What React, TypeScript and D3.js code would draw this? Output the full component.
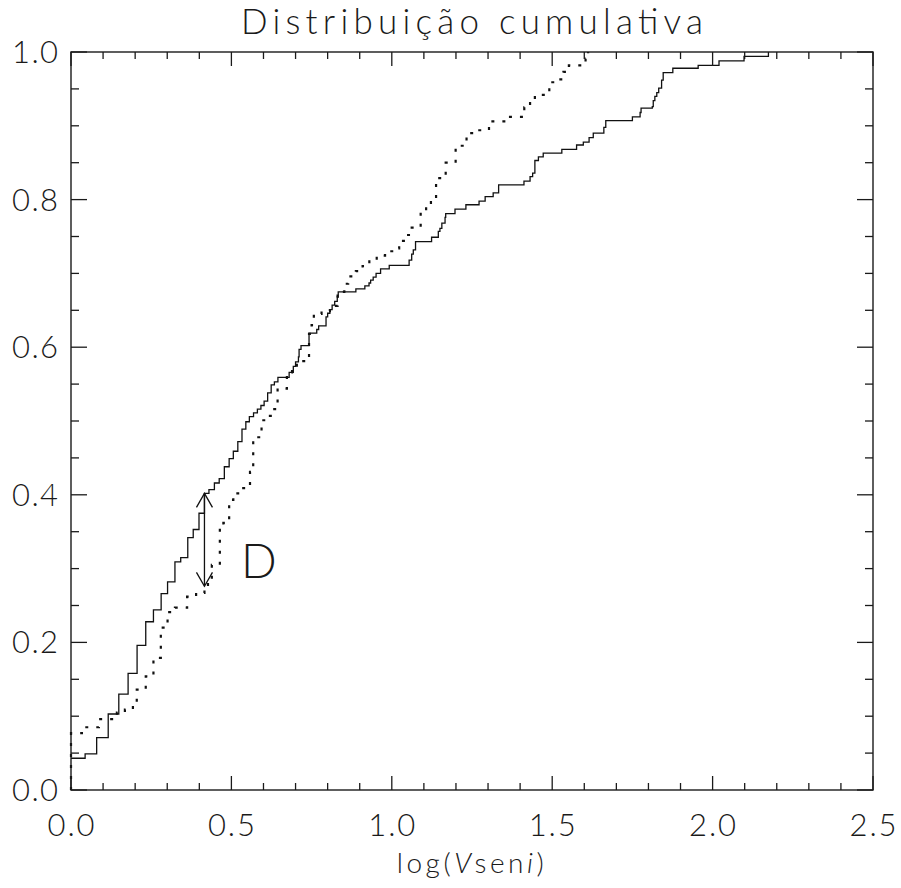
import React from "react";
import * as d3 from "d3";

// Sample 1 (solid line): step positions (log V sin i) and cumulative fraction
const solidX = [0.0, 0.044, 0.080, 0.116, 0.149, 0.178, 0.206, 0.233, 0.257, 0.281, 0.301, 0.324, 0.342, 0.364, 0.381, 0.399, 0.416, 0.430, 0.447, 0.462, 0.478, 0.493, 0.506, 0.520, 0.533, 0.545, 0.556, 0.569, 0.581, 0.592, 0.602, 0.613, 0.624, 0.634, 0.645, 0.680, 0.693, 0.700, 0.709, 0.711, 0.717, 0.742, 0.766, 0.772, 0.795, 0.800, 0.807, 0.814, 0.822, 0.830, 0.833, 0.888, 0.916, 0.929, 0.934, 0.942, 0.951, 0.965, 0.992, 1.054, 1.062, 1.067, 1.074, 1.124, 1.145, 1.150, 1.156, 1.166, 1.168, 1.197, 1.231, 1.272, 1.291, 1.316, 1.333, 1.412, 1.431, 1.439, 1.446, 1.457, 1.472, 1.530, 1.576, 1.597, 1.615, 1.628, 1.661, 1.667, 1.750, 1.774, 1.777, 1.812, 1.815, 1.820, 1.826, 1.832, 1.841, 1.846, 1.876, 1.955, 2.020, 2.098, 2.174];
const solidY = [0.043, 0.049, 0.071, 0.103, 0.130, 0.158, 0.196, 0.228, 0.244, 0.266, 0.282, 0.309, 0.315, 0.342, 0.353, 0.375, 0.402, 0.407, 0.416, 0.422, 0.438, 0.449, 0.459, 0.472, 0.489, 0.499, 0.506, 0.511, 0.516, 0.521, 0.527, 0.538, 0.549, 0.553, 0.559, 0.566, 0.574, 0.580, 0.587, 0.597, 0.602, 0.619, 0.624, 0.629, 0.641, 0.646, 0.651, 0.657, 0.662, 0.668, 0.675, 0.679, 0.683, 0.687, 0.691, 0.695, 0.700, 0.706, 0.711, 0.718, 0.726, 0.732, 0.743, 0.749, 0.757, 0.761, 0.768, 0.776, 0.781, 0.787, 0.793, 0.798, 0.804, 0.809, 0.820, 0.825, 0.831, 0.836, 0.853, 0.858, 0.863, 0.868, 0.874, 0.878, 0.884, 0.890, 0.898, 0.907, 0.912, 0.918, 0.924, 0.926, 0.934, 0.940, 0.945, 0.951, 0.962, 0.972, 0.978, 0.982, 0.988, 0.994, 1.000];

// Sample 2 (dotted line)
const dottedX = [0.0, 0.0, 0.034, 0.087, 0.143, 0.168, 0.193, 0.205, 0.233, 0.257, 0.280, 0.301, 0.324, 0.362, 0.390, 0.416, 0.427, 0.439, 0.464, 0.475, 0.493, 0.506, 0.521, 0.558, 0.568, 0.594, 0.611, 0.627, 0.644, 0.673, 0.689, 0.704, 0.742, 0.750, 0.757, 0.781, 0.807, 0.831, 0.852, 0.864, 0.888, 0.909, 0.930, 0.953, 0.979, 1.007, 1.023, 1.042, 1.062, 1.090, 1.107, 1.122, 1.138, 1.168, 1.199, 1.233, 1.256, 1.303, 1.361, 1.413, 1.431, 1.446, 1.491, 1.517, 1.535, 1.552, 1.604, 1.612];
const dottedY = [0.0, 0.077, 0.085, 0.096, 0.105, 0.109, 0.114, 0.136, 0.154, 0.179, 0.220, 0.241, 0.247, 0.262, 0.267, 0.276, 0.282, 0.305, 0.355, 0.362, 0.393, 0.402, 0.409, 0.431, 0.478, 0.501, 0.507, 0.516, 0.544, 0.566, 0.573, 0.581, 0.618, 0.630, 0.645, 0.649, 0.656, 0.675, 0.686, 0.696, 0.703, 0.710, 0.718, 0.724, 0.730, 0.734, 0.744, 0.752, 0.762, 0.783, 0.794, 0.801, 0.829, 0.850, 0.873, 0.890, 0.894, 0.906, 0.912, 0.925, 0.935, 0.942, 0.959, 0.963, 0.973, 0.982, 0.991, 1.000];

// K-S statistic marker
const dAt = 0.416;
const dTop = 0.402;
const dBottom = 0.276;

const xTickLabels = ["0.0", "0.5", "1.0", "1.5", "2.0", "2.5"];
const yTickLabels = ["0.0", "0.2", "0.4", "0.6", "0.8", "1.0"];

const W = 901;
const H = 888;
const L = 71, R = 873, T = 52, B = 790;
const FONT = "Lato, 'DejaVu Sans', sans-serif";
const INK = "#1a1a1a";

export default function App() {
  const x = d3.scaleLinear().domain([0, 2.5]).range([L, R]);
  const y = d3.scaleLinear().domain([0, 1]).range([B, T]);

  const line = d3
    .line<[number, number]>()
    .x((d) => x(d[0]))
    .y((d) => y(d[1]))
    .curve(d3.curveStepAfter);

  const solidPts = solidX.map((v, i) => [v, solidY[i]] as [number, number]);
  const dottedPts = dottedX.map((v, i) => [v, dottedY[i]] as [number, number]);

  const xMinor = d3.range(0, 2.5001, 0.1);
  const yMinor = d3.range(0, 1.0001, 0.05);
  const xMajor = xTickLabels.map(Number);
  const yMajor = yTickLabels.map(Number);
  const isMajor = (v: number, arr: number[]) => arr.some((m) => Math.abs(m - v) < 1e-6);

  const ax = x(dAt);
  const ay1 = y(dTop);
  const ay2 = y(dBottom);
  const hw = 8, hl = 14;

  return (
    <svg
      width={W}
      height={H}
      style={{ position: "absolute", left: 0, top: 0, background: "#fff" }}
    >
      <rect x={0} y={0} width={W} height={H} fill="#fff" />
      {/* title */}
      <text
        x={(L + R) / 2}
        y={34}
        textAnchor="middle"
        fontFamily={FONT}
        fontWeight={300}
        fontSize={35}
        fill={INK}
        textLength={462}
        lengthAdjust="spacing"
      >
        Distribuição cumulativa
      </text>

      {/* curves */}
      <path d={line(solidPts) || ""} fill="none" stroke="#111" strokeWidth={1.3} />
      <path
        d={line(dottedPts) || ""}
        fill="none"
        stroke="#111"
        strokeWidth={2.2}
        strokeDasharray="3 8"
      />

      {/* D arrow */}
      <g stroke="#111" strokeWidth={1.3} fill="none">
        <line x1={ax} x2={ax} y1={ay1} y2={ay2} />
        <polyline points={`${ax - hw},${ay1 + hl} ${ax},${ay1} ${ax + hw},${ay1 + hl}`} />
        <polyline points={`${ax - hw},${ay2 - hl} ${ax},${ay2} ${ax + hw},${ay2 - hl}`} />
      </g>
      <text x={241} y={578} fontFamily={FONT} fontWeight={300} fontSize={47} fill={INK}>
        D
      </text>

      {/* frame */}
      <rect x={L} y={T} width={R - L} height={B - T} fill="none" stroke={INK} strokeWidth={1.4} />

      {/* ticks */}
      <g stroke={INK} strokeWidth={1.3}>
        {xMinor.map((v, i) => {
          const len = isMajor(v, xMajor) ? 14 : 7;
          return (
            <g key={"xt" + i}>
              <line x1={x(v)} x2={x(v)} y1={B} y2={B - len} />
              <line x1={x(v)} x2={x(v)} y1={T} y2={T + len} />
            </g>
          );
        })}
        {yMinor.map((v, i) => {
          const len = isMajor(v, yMajor) ? 16 : 8;
          return (
            <g key={"yt" + i}>
              <line x1={L} x2={L + len} y1={y(v)} y2={y(v)} />
              <line x1={R} x2={R - len} y1={y(v)} y2={y(v)} />
            </g>
          );
        })}
      </g>

      {/* tick labels */}
      <g fontFamily={FONT} fontWeight={300} fontSize={31} fill={INK}>
        {xTickLabels.map((t) => (
          <text key={"xl" + t} x={x(Number(t))} y={836} textAnchor="middle" textLength={47} lengthAdjust="spacing">
            {t}
          </text>
        ))}
        {yTickLabels.map((t) => (
          <text key={"yl" + t} x={58} y={y(Number(t)) + 11} textAnchor="end" textLength={46} lengthAdjust="spacing">
            {t}
          </text>
        ))}
      </g>

      {/* x axis title */}
      <text
        x={(L + R) / 2}
        y={873}
        textAnchor="middle"
        fontFamily={FONT}
        fontWeight={300}
        fontSize={28}
        letterSpacing={3.5}
        fill={INK}
      >
        log(<tspan fontStyle="italic">V</tspan>sen<tspan fontStyle="italic">i</tspan>)
      </text>
    </svg>
  );
}
